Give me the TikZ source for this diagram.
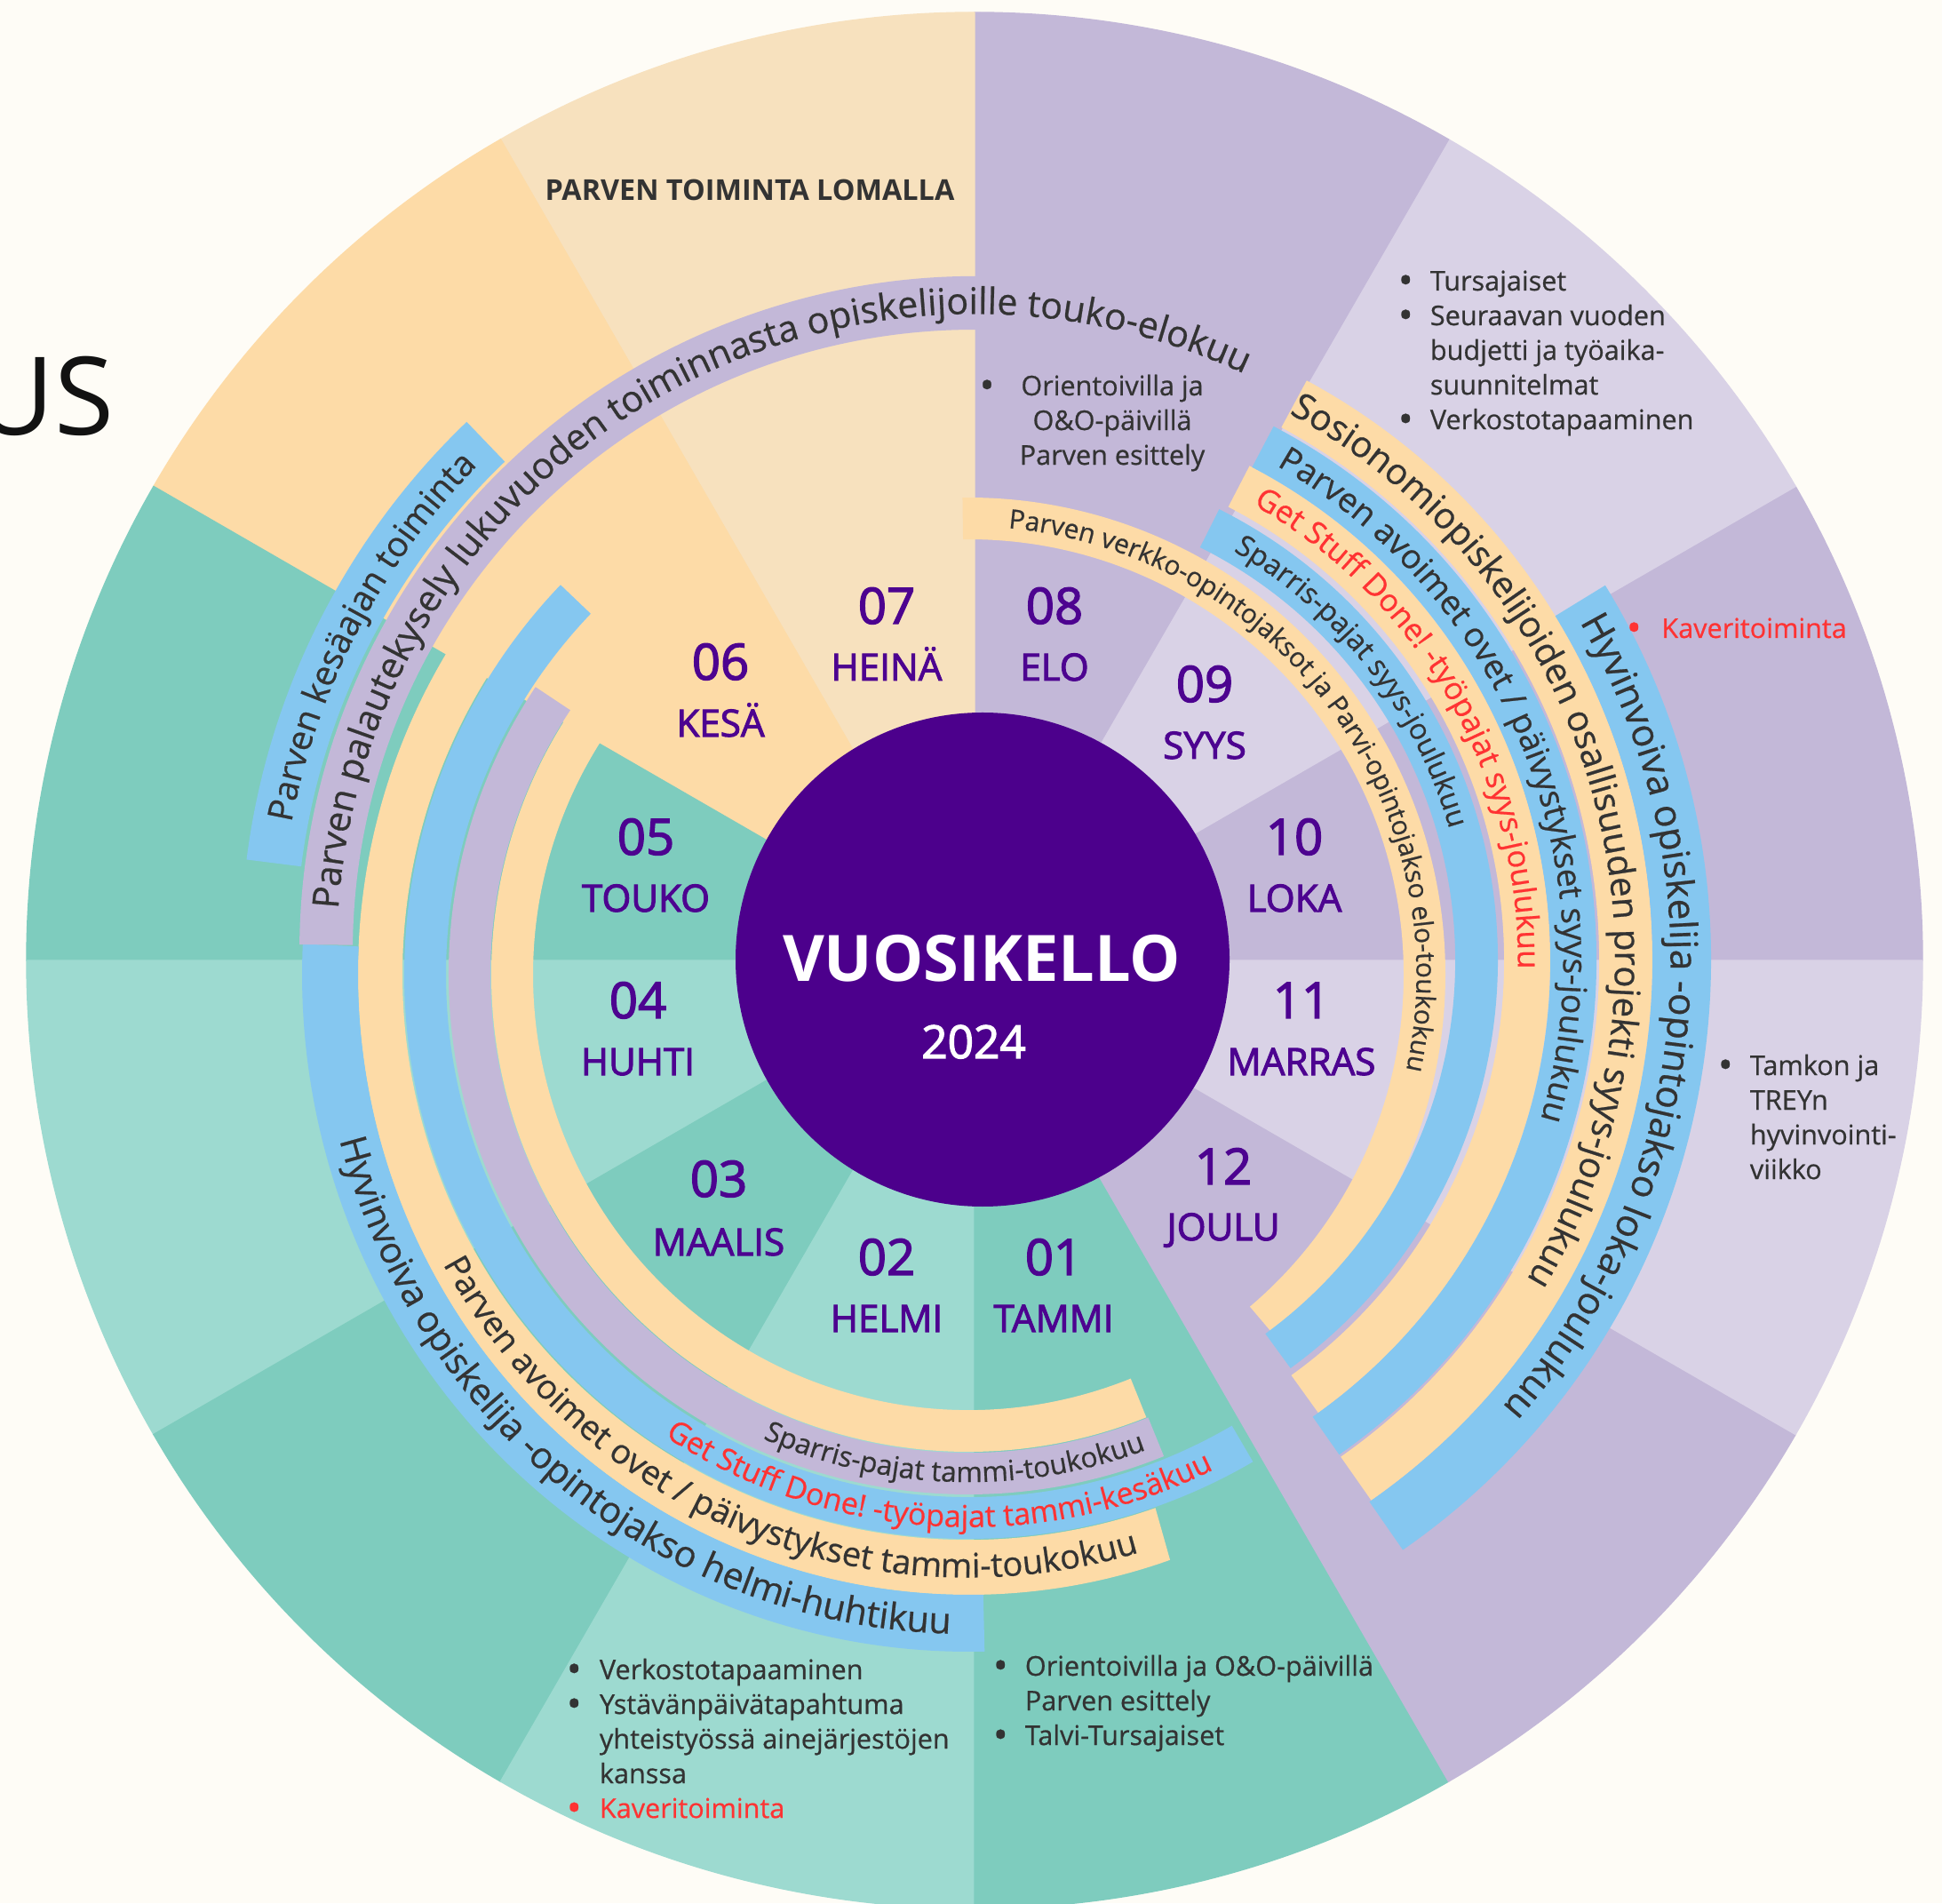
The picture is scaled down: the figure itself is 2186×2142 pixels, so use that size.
\documentclass[tikz,border=0pt]{standalone}
\usepackage{fontspec}
\setmainfont{Open Sans}
\newfontfamily\semib{Open Sans}[FakeBold=2.4]
\newfontfamily\medf{Open Sans}[FakeBold=0.6]
\usetikzlibrary{calc,decorations.text}
\definecolor{bg}{HTML}{FEFCF6}
\definecolor{tealD}{HTML}{7ECCBE}
\definecolor{tealL}{HTML}{9DDAD0}
\definecolor{peach}{HTML}{FDDBA7}
\definecolor{peachL}{HTML}{F7E1BE}
\definecolor{lav}{HTML}{C3B8D8}
\definecolor{lavL}{HTML}{D9D2E6}
\definecolor{bandblue}{HTML}{85C7F0}
\definecolor{purp}{HTML}{4C008C}
\definecolor{monthc}{HTML}{4D0390}
\definecolor{txt}{HTML}{333333}
\definecolor{redt}{HTML}{FF3333}
% band: center, rx in, ry in, rx out, ry out, angle a, angle b, colour
\newcommand\band[8]{\fill[#8] ($(#1)+(#6:#4 and #5)$) arc[start angle=#6, end angle=#7, x radius=#4, y radius=#5] -- ($(#1)+(#7:#2 and #3)$) arc[start angle=#7, end angle=#6, x radius=#2, y radius=#3] -- cycle;}
% arc text: center, rx, ry, start, end, format, text
\newcommand\arctext[7]{\path[decorate,decoration={text along path, text align=center, text={|\medf#6|#7}}] ($(#1)+(#4:#2 and #3)$) arc[start angle=#4, end angle=#5, x radius=#2, y radius=#3];}
\newcommand\li{\medf\fontsize{8.7pt}{11.1pt}\selectfont\color{txt}}
\newcommand\bul{\raisebox{-1.1pt}{\fontsize{12.5pt}{11pt}\selectfont •}}
\begin{document}
\begin{tikzpicture}[x=0.01cm,y=0.01cm,
  every node/.style={inner sep=0pt,outer sep=0pt},
  mnum/.style={anchor=base,text=monthc,font=\semib\fontsize{16pt}{16pt}\selectfont},
  mname/.style={anchor=base,text=monthc,font=\semib\fontsize{12pt}{12pt}\selectfont},
  blist/.style={anchor=base west,align=left}]
\useasboundingbox (0,0) rectangle (2186,2142);
\fill[bg] (0,0) rectangle (2186,2142);
\coordinate (S) at (1097,1061);
\coordinate (S2) at (1097,1071);
\coordinate (O) at (1090,1045);
\coordinate (Q) at (1118,1061);
\coordinate (C) at (1106,1062);
% sectors
\foreach \a/\c in {0/lav,30/lavL,60/lav,90/peachL,120/peach,150/tealD,180/tealL,210/tealD,240/tealL,270/tealD,300/lav,330/lavL}{
  \filldraw[fill=\c,draw=\c,line width=0.4pt] (S) -- ($(S)+(\a:1067)$) arc[start angle=\a, delta angle=30, radius=1067] -- cycle;}
% centre
\fill[purp] (C) circle[radius=278];
% bands, left group
\band{O}{490}{490}{537}{537}{-49.7}{90.7}{peach}
\band{O}{490}{490}{537}{537}{135}{291.9}{peach}
\band{O}{538}{538}{585}{585}{146.4}{292.1}{lav}
\band{O}{588}{588}{635}{635}{136.3}{300.3}{bandblue}
\band{O}{637}{636}{687}{698}{145}{289.3}{peach}
\band{O}{687}{698}{750}{762}{177.4}{271.4}{bandblue}
\band{S2}{700}{700}{760}{760}{63}{179.4}{lav}
\band{S2}{764}{764}{826}{826}{133.8}{172.8}{bandblue}
% bands, right group
\band{Q}{520}{520}{568}{568}{-53.9}{63.4}{bandblue}
\band{Q}{575}{575}{627}{627}{-54.3}{62.6}{peach}
\band{Q}{627}{627}{679}{679}{-55}{62.3}{bandblue}
\band{Q}{682}{682}{742}{742}{-55}{61.6}{peach}
\band{Q}{742}{742}{808}{808}{-55.2}{31.5}{bandblue}
% band texts
\arctext{O}{504.5}{504.5}{111.3}{-38.7}{\fontsize{8.5pt}{8.5pt}\selectfont\color{txt}}{Parven verkko-opintojaksot ja Parvi-opintojakso elo-toukokuu}
\arctext{O}{571}{571}{208.3}{328.3}{\fontsize{9pt}{9pt}\selectfont\color{txt}}{Sparris-pajat tammi-toukokuu}
\arctext{O}{621.7}{621.7}{206.5}{326.5}{\fontsize{9.7pt}{9.7pt}\selectfont\color{redt}}{Get Stuff Done! -työpajat tammi-kesäkuu}
\arctext{O}{674}{678.5}{177.7}{317.7}{\fontsize{10.8pt}{10.8pt}\selectfont\color{txt}}{Parven avoimet ovet / päivystykset tammi-toukokuu}
\arctext{O}{731}{742}{161.7}{301.7}{\fontsize{11.7pt}{11.7pt}\selectfont\color{txt}}{Hyvinvoiva opiskelija -opintojakso helmi-huhtikuu}
\arctext{S2}{717.7}{717.7}{200.6}{40.6}{\fontsize{11.7pt}{11.7pt}\selectfont\color{txt}}{Parven palautekysely lukuvuoden toiminnasta opiskelijoille touko-elokuu}
\arctext{S2}{782.5}{782.5}{192.5}{112.5}{\fontsize{11.1pt}{11.1pt}\selectfont\color{txt}}{Parven kesäajan toiminta}
\arctext{Q}{534.3}{534.3}{97.85}{-22.15}{\fontsize{9.2pt}{9.2pt}\selectfont\color{txt}}{Sparris-pajat syys-joulukuu}
\arctext{Q}{590.6}{590.6}{99.7}{-40.3}{\fontsize{9.9pt}{9.9pt}\selectfont\color{redt}}{Get Stuff Done! -työpajat syys-joulukuu}
\arctext{Q}{641.7}{641.7}{97}{-53}{\fontsize{10.7pt}{10.7pt}\selectfont\color{txt}}{Parven avoimet ovet / päivystykset syys-joulukuu}
\arctext{Q}{699.9}{699.9}{90.35}{-59.65}{\fontsize{11.5pt}{11.5pt}\selectfont\color{txt}}{Sosionomiopiskelijoiden osallisuuden projekti syys-joulukuu}
\arctext{Q}{762.3}{762.3}{69.35}{-80.65}{\fontsize{12.1pt}{12.1pt}\selectfont\color{txt}}{Hyvinvoiva opiskelija -opintojakso loka-joulukuu}
% month labels
\node[mnum] (n01) at (1186,707) {01}; \node[mname] (t01) at (1186,643) {TAMMI};
\node[mnum] (n02) at (998,707) {02};  \node[mname] (t02) at (998,643) {HELMI};
\node[mnum] (n03) at (809,795) {03};  \node[mname] (t03) at (809,729) {MAALIS};
\node[mnum] (n04) at (718,996) {04};  \node[mname] (t04) at (718,932) {HUHTI};
\node[mnum] (n05) at (727,1180) {05}; \node[mname] (t05) at (727,1116) {TOUKO};
\node[mnum] (n06) at (811,1377) {06}; \node[mname] (t06) at (811,1313) {KESÄ};
\node[mnum] (n07) at (998,1440) {07}; \node[mname] (t07) at (998,1376) {HEINÄ};
\node[mnum] (n08) at (1187,1440) {08}; \node[mname] (t08) at (1187,1376) {ELO};
\node[mnum] (n09) at (1356,1352) {09}; \node[mname] (t09) at (1356,1288) {SYYS};
\node[mnum] (n10) at (1457,1180) {10}; \node[mname] (t10) at (1457,1116) {LOKA};
\node[mnum] (n11) at (1465,996) {11}; \node[mname] (t11) at (1465,932) {MARRAS};
\node[mnum] (n12) at (1377,809) {12}; \node[mname] (t12) at (1377,746) {JOULU};
% centre texts
\node[anchor=base,text=white,font=\bfseries\fontsize{20.5pt}{20.5pt}\selectfont] (vk) at (1105,1037) {VUOSIKELLO};
\node[anchor=base,text=white,font=\semib\fontsize{14.6pt}{14.6pt}\selectfont] (yr) at (1096,951) {2024};
% title fragment
\node[anchor=base east,text=black!93,font=\fontsize{34.7pt}{40pt}\selectfont] (us) at (128,1652) {US};
% outer notes
\node[anchor=base,text=txt,font=\bfseries\fontsize{9.2pt}{9.2pt}\selectfont] (loma) at (844,1916) {PARVEN TOIMINTA LOMALLA};
\node[anchor=base] (elob) at (1111,1697) {\li\bul};
\node[anchor=base] (elol) at (1252,1697) {\li\begin{tabular}[t]{@{}c@{}}Orientoivilla ja\\O\&O-päivillä\\Parven esittely\end{tabular}};
\node[blist] (syysl) at (1574,1815) {\li\begin{tabular}[t]{@{}l@{\hspace{5.5pt}}l@{}}\bul&Tursajaiset\\\bul&Seuraavan vuoden\\&budjetti ja työaika-\\&suunnitelmat\\\bul&Verkostotapaaminen\end{tabular}};
\node[blist] (lokal) at (1831,1424) {\li\color{redt}\begin{tabular}[t]{@{}l@{\hspace{6.5pt}}l@{}}\bul&Kaveritoiminta\end{tabular}};
\node[blist] (marrasl) at (1934,932) {\li\begin{tabular}[t]{@{}l@{\hspace{5.5pt}}l@{}}\bul&Tamkon ja\\&TREYn\\&hyvinvointi-\\&viikko\end{tabular}};
\node[blist] (tammil) at (1118,256) {\li\begin{tabular}[t]{@{}l@{\hspace{5.5pt}}l@{}}\bul&Orientoivilla ja O\&O-päivillä\\&Parven esittely\\\bul&Talvi-Tursajaiset\end{tabular}};
\node[blist] (helmil) at (638,252) {\li\begin{tabular}[t]{@{}l@{\hspace{5.8pt}}l@{}}\bul&Verkostotapaaminen\\\bul&Ystävänpäivätapahtuma\\&yhteistyössä ainejärjestöjen\\&kanssa\\\textcolor{redt}{\bul}&\textcolor{redt}{Kaveritoiminta}\end{tabular}};
\end{tikzpicture}
\end{document}
